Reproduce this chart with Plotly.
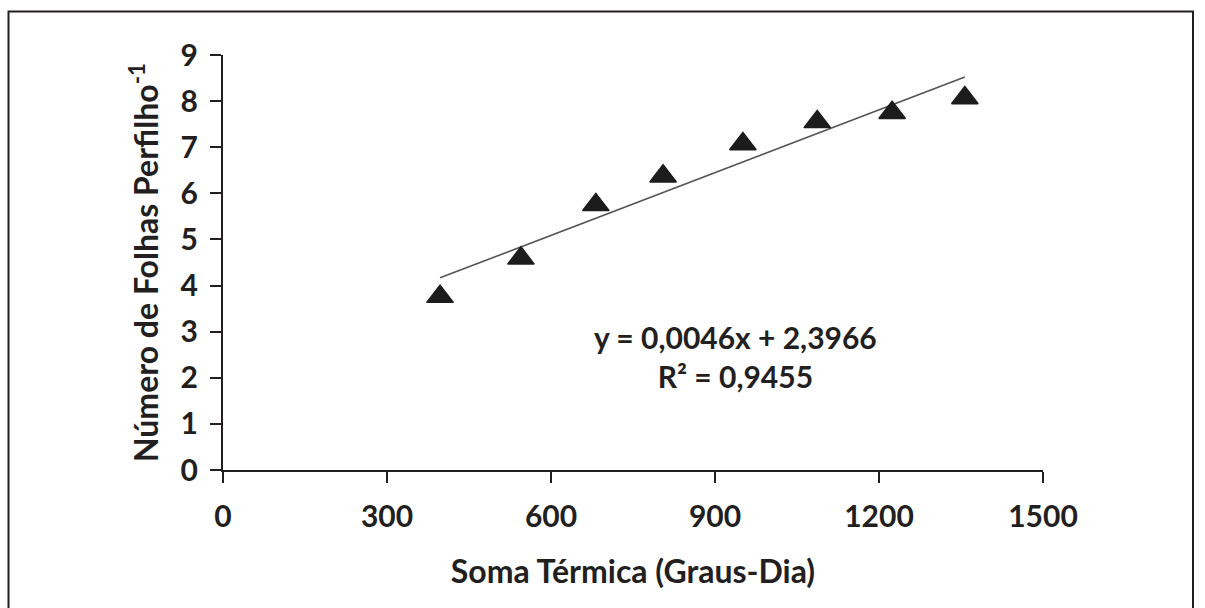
import numpy as np
import plotly.graph_objects as go

# Data
soma_termica = [397, 545, 682, 805, 951, 1087, 1224, 1357]
num_folhas = [3.76, 4.59, 5.75, 6.37, 7.07, 7.55, 7.75, 8.07]
x_ticks = [0, 300, 600, 900, 1200, 1500]
y_ticks = [0, 1, 2, 3, 4, 5, 6, 7, 8, 9]
equation_text = "y = 0,0046x + 2,3966"
r2_text = "R² = 0,9455"

# Linear trendline fitted from the data
slope, intercept = np.polyfit(soma_termica, num_folhas, 1)
trend_x = [min(soma_termica), max(soma_termica)]
trend_y = [slope * v + intercept for v in trend_x]

FONT = "Lato"
AX = "#231f20"

fig = go.Figure()
fig.add_trace(go.Scatter(
    x=trend_x, y=trend_y, mode="lines",
    line=dict(color="#555555", width=1.6), hoverinfo="skip", showlegend=False))
fig.add_trace(go.Scatter(
    x=soma_termica, y=num_folhas, mode="markers",
    marker=dict(symbol="triangle-up", size=23, color="#1c1c1c",
                line=dict(color="#1c1c1c", width=1.5)),
    showlegend=False))

fig.add_annotation(x=937, y=2.46, text=equation_text + "<br>" + r2_text,
                   showarrow=False, align="center",
                   font=dict(family=FONT, size=30, color="#231f20", weight="bold"))

L, T, W, H = 223, 55, 820, 415
fig.update_layout(
    width=1205, height=608,
    margin=dict(l=L, r=1205 - L - W, t=T, b=608 - T - H),
    paper_bgcolor="white", plot_bgcolor="white",
    font=dict(family=FONT, color="#231f20"),
    xaxis=dict(range=[0, 1500], tickvals=x_ticks, showgrid=False, zeroline=False,
               showline=True, linecolor=AX, linewidth=2,
               ticks="outside", ticklen=11, tickwidth=2, tickcolor=AX,
               ticklabelstandoff=8,
               tickfont=dict(family=FONT, size=30, weight="bold"),
               title=dict(text="Soma Térmica (Graus-Dia)", standoff=29,
                          font=dict(family=FONT, size=32, weight="bold"))),
    yaxis=dict(range=[0, 9], tickvals=y_ticks, showgrid=False, zeroline=False,
               showline=True, linecolor=AX, linewidth=2,
               ticks="outside", ticklen=11, tickwidth=2, tickcolor=AX,
               ticklabelstandoff=6,
               tickfont=dict(family=FONT, size=30, weight="bold"),
               title=dict(text="Número de Folhas Perfilho<sup>-1</sup>", standoff=12,
                          font=dict(family=FONT, size=32, weight="bold"))),
)

# Outer frame around the figure
def px_x(p):
    return (p - L) / W

def px_y(p):
    return (T + H - p) / H

fig.add_shape(type="rect", xref="paper", yref="paper",
              x0=px_x(8.5), x1=px_x(1193), y0=px_y(640), y1=px_y(11.5),
              line=dict(color="#231f20", width=2), fillcolor="rgba(0,0,0,0)",
              layer="below")

fig.write_html("out.html")
